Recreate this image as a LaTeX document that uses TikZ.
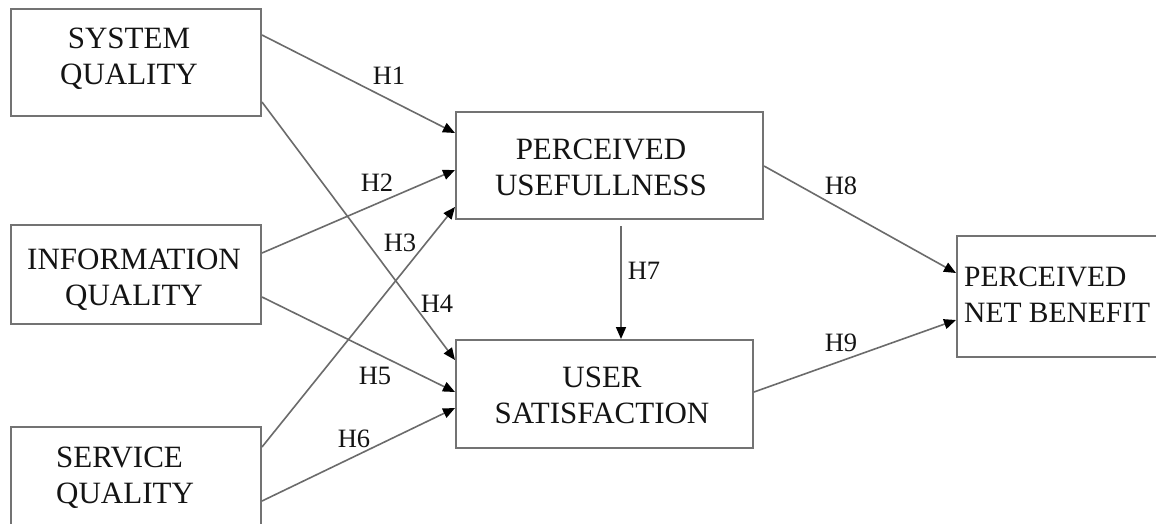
\documentclass[tikz,border=0pt]{standalone}
\usepackage{fontspec}
\setmainfont{Liberation Serif}
\usetikzlibrary{arrows.meta,calc}

\tikzset{
  box/.style={draw=black!55, line width=2pt, rectangle, inner sep=0pt},
  boxtext/.style={inner sep=0pt, text=black!92, font=\fontsize{31}{36}\selectfont},
  hyp/.style={inner sep=0pt, text=black!92, font=\fontsize{26.5}{30}\selectfont},
  link/.style={draw=black!58, line width=1.6pt,
    -{Triangle[length=12pt,width=10pt,color=black]}}
}

\begin{document}
\begin{tikzpicture}[x=1pt,y=-1pt]
  \useasboundingbox (0,0) rectangle (1156,523);
  \clip (0,0) rectangle (1156,523);
  \fill[white] (0,0) rectangle (1156,523);

  % constructs
  \node[box, minimum width=250pt, minimum height=107pt] (sys)  at (136,62.5) {};
  \node[box, minimum width=250pt, minimum height=99pt]  (info) at (136,274.5) {};
  \node[box, minimum width=250pt, minimum height=113pt] (serv) at (136,483.5) {};
  \node[box, minimum width=307pt, minimum height=107pt] (pu)   at (609.5,165.5) {};
  \node[box, minimum width=297pt, minimum height=108pt] (us)   at (604.5,394) {};
  \node[box, minimum width=230pt, minimum height=121pt] (pnb)  at (1072,296.5) {};

  % construct names
  \node[boxtext, align=center] (systxt) at (129,59) {SYSTEM\\QUALITY};
  \node[boxtext, align=center] (inftxt) at (134,280) {INFORMATION\\QUALITY};
  \node[boxtext, align=left, anchor=west] (sertxt) at (56,478) {SERVICE\\QUALITY};
  \node[boxtext, align=center] (putxt) at (601,167) {PERCEIVED\\USEFULLNESS};
  \node[boxtext, align=center] (ustxt) at (602,395) {USER\\SATISFACTION};
  \node[boxtext, align=left, anchor=west, font=\fontsize{29.5}{36}\selectfont]
    (pnbtxt) at (964,295) {PERCEIVED\\NET BENEFIT};

  % hypothesised paths
  \draw[link] (sys.east |- 0,35)   -- (pu.west |- 0,133);
  \draw[link] (sys.east |- 0,102)  -- (us.west |- 0,360);
  \draw[link] (info.east |- 0,253) -- (pu.west |- 0,170);
  \draw[link] (info.east |- 0,297) -- (us.west |- 0,392);
  \draw[link] (serv.east |- 0,447) -- (pu.west |- 0,207);
  \draw[link] (serv.east |- 0,501) -- (us.west |- 0,408);
  \draw[link] ($(pu.south -| 621,0)+(0,6)$) -- (us.north -| 621,0);
  \draw[link] (pu.east |- 0,166)   -- (pnb.west |- 0,273);
  \draw[link] (us.east |- 0,392)   -- (pnb.west |- 0,320);

  % path labels
  \node[hyp] (h1) at (389,76)  {H1};
  \node[hyp] (h2) at (377,183) {H2};
  \node[hyp] (h3) at (400,243) {H3};
  \node[hyp] (h4) at (437,304) {H4};
  \node[hyp] (h5) at (375,376) {H5};
  \node[hyp] (h6) at (354,439) {H6};
  \node[hyp] (h7) at (644,271) {H7};
  \node[hyp] (h8) at (841,186) {H8};
  \node[hyp] (h9) at (841,343) {H9};
\end{tikzpicture}
\end{document}
